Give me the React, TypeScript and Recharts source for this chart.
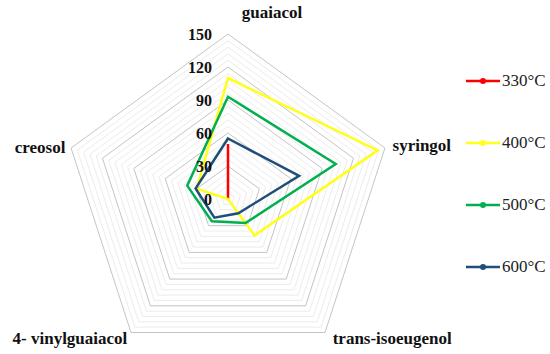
import { Legend, PolarAngleAxis, PolarGrid, PolarRadiusAxis, Radar, RadarChart } from 'recharts';

const compounds = ['guaiacol', 'syringol', 'trans-isoeugenol', '4- vinylguaiacol', 'creosol'];
const t330 = [50, 0, 0, 0, 0];
const t400 = [110, 143, 41, 0, 30];
const t500 = [93, 103, 27, 25, 39];
const t600 = [55, 68, 16, 21, 31];
const radiusTicks = [0, 30, 60, 90, 120, 150];

const seriesNames = ['330°C', '400°C', '500°C', '600°C'];
const seriesColors = ['#ff0000', '#ffff1a', '#00b050', '#1f4e79'];

const data = compounds.map((name, i) => ({
  name,
  s330: t330[i],
  s400: t400[i],
  s500: t500[i],
  s600: t600[i],
}));

const OUTER = 165;
const MAX = 150;
const majorRadii = radiusTicks.map((v) => (v / MAX) * OUTER);
const minorRadii: number[] = [];
for (let v = 6; v < MAX; v += 6) {
  if (v % 30 !== 0) minorRadii.push((v / MAX) * OUTER);
}

const serif = '"Liberation Serif", "DejaVu Serif", serif';

// label placement tweaks per axis
const labelPos: Record<string, { dx: number; dy: number; anchor: 'start' | 'middle' | 'end' }> = {
  guaiacol: { dx: 44, dy: -14, anchor: 'middle' },
  syringol: { dx: 0, dy: 0, anchor: 'start' },
  'trans-isoeugenol': { dx: 3, dy: 0, anchor: 'start' },
  '4- vinylguaiacol': { dx: 1, dy: 0, anchor: 'end' },
  creosol: { dx: 2, dy: 2, anchor: 'end' },
};

function AngleTick(props: any) {
  const { x, y, payload } = props;
  const p = labelPos[payload.value] || { dx: 0, dy: 0, anchor: 'middle' };
  return (
    <text
      x={x + p.dx}
      y={y + p.dy}
      textAnchor={p.anchor}
      dominantBaseline="central"
      fontFamily={serif}
      fontWeight="bold"
      fontSize={17}
      fill="#111"
    >
      {payload.value}
    </text>
  );
}

function RadiusTick(props: any) {
  const { x, y, payload } = props;
  return (
    <text
      x={x - 16}
      y={y}
      textAnchor="end"
      dominantBaseline="central"
      fontFamily={serif}
      fontWeight="bold"
      fontSize={16}
      fill="#111"
    >
      {payload.value}
    </text>
  );
}

function LegendBox() {
  return (
    <div style={{ fontFamily: serif, fontSize: 17, color: '#222' }}>
      {seriesNames.map((n, i) => (
        <div key={n} style={{ display: 'flex', alignItems: 'center', height: 62 }}>
          <svg width={37} height={10}>
            <line x1={1} y1={5} x2={35} y2={5} stroke={seriesColors[i]} strokeWidth={2.5} />
            <circle cx={18} cy={5} r={3} fill={seriesColors[i]} />
          </svg>
          <span>{n}</span>
        </div>
      ))}
    </div>
  );
}

export default function App() {
  return (
    <div style={{ position: 'absolute', left: 0, top: 0, width: 550, height: 354, background: '#fff' }}>
      <RadarChart width={550} height={354} data={data} cx={228} cy={199} outerRadius={OUTER}>
        <PolarGrid gridType="polygon" radialLines={false} polarRadius={minorRadii} stroke="#ececec" />
        <PolarGrid gridType="polygon" radialLines={false} polarRadius={majorRadii} stroke="#c4c4c4" />
        <PolarAngleAxis dataKey="name" tick={<AngleTick />} tickLine={false} axisLine={false} />
        <PolarRadiusAxis
          angle={90}
          domain={[0, MAX]}
          ticks={radiusTicks}
          tick={<RadiusTick />}
          axisLine={false}
          tickLine={false}
        />
        {['s330', 's400', 's500', 's600'].map((k, i) => (
          <Radar
            key={k}
            name={seriesNames[i]}
            dataKey={k}
            stroke={seriesColors[i]}
            strokeWidth={2.5}
            fill="none"
            fillOpacity={0}
            dot={{ r: 3, fill: seriesColors[i], stroke: seriesColors[i], strokeWidth: 0 }}
            isAnimationActive={false}
          />
        ))}
        <Legend
          layout="vertical"
          content={<LegendBox />}
          wrapperStyle={{ position: 'absolute', left: 465, top: 50, width: 90 }}
        />
      </RadarChart>
    </div>
  );
}
